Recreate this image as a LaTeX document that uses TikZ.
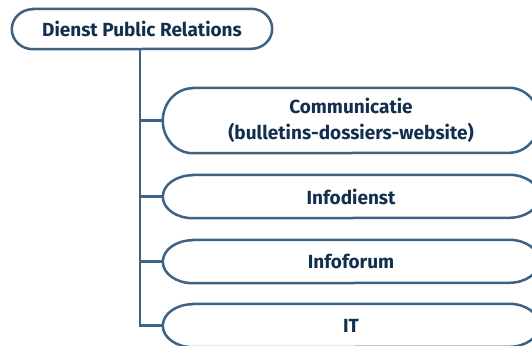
\documentclass[tikz,border=0pt]{standalone}
\usepackage{fontspec}
\setmainfont{Fira Sans}
\definecolor{strokeblue}{HTML}{3E6283}
\definecolor{textblue}{HTML}{132F4F}
\tikzset{
  box/.style={draw=none, inner sep=0pt, align=center, text=textblue,
    font=\bfseries\fontsize{19}{26}\selectfont},
  outline/.style={draw=strokeblue, line width=2.5pt},
  conn/.style={draw=strokeblue, line width=2.5pt},
}
\newcommand{\pill}[2]{% node, x radius
  \draw[outline] ([xshift=#2pt]#1.north west) -- ([xshift=-#2pt]#1.north east)
    arc[start angle=90, end angle=-90, x radius=#2pt, y radius=0.5*\pillh]
    -- ([xshift=#2pt]#1.south west)
    arc[start angle=-90, end angle=-270, x radius=#2pt, y radius=0.5*\pillh] -- cycle;}
\begin{document}
\begin{tikzpicture}[x=1pt,y=-1pt]
\useasboundingbox (0,0) rectangle (532,345);
\node[box, minimum width=260pt, minimum height=40pt] (top) at (142,29) {Dienst Public Relations};
\node[box, minimum width=376pt, minimum height=65pt] (comm) at (351,120.5) {Communicatie\\(bulletins-dossiers-website)};
\node[box, minimum width=376pt, minimum height=43pt] (idienst) at (351,196.5) {Infodienst};
\node[box, minimum width=376pt, minimum height=43pt] (iforum) at (351,261.5) {Infoforum};
\node[box, minimum width=376pt, minimum height=43pt] (it) at (351,325.5) {IT};
\def\pillh{40pt}\pill{top}{21}
\def\pillh{65pt}\pill{comm}{30}
\def\pillh{43pt}\pill{idienst}{30}
\def\pillh{43pt}\pill{iforum}{30}
\def\pillh{43pt}\pill{it}{30}
\coordinate (trunk) at (140,0);
\coordinate (bend) at (trunk |- it.west);
\draw[conn] (trunk |- top.south) -- (bend) -- (it.west);
\draw[conn] (trunk |- comm.west) -- (comm.west);
\draw[conn] (trunk |- idienst.west) -- (idienst.west);
\draw[conn] (trunk |- iforum.west) -- (iforum.west);
\end{tikzpicture}
\end{document}
